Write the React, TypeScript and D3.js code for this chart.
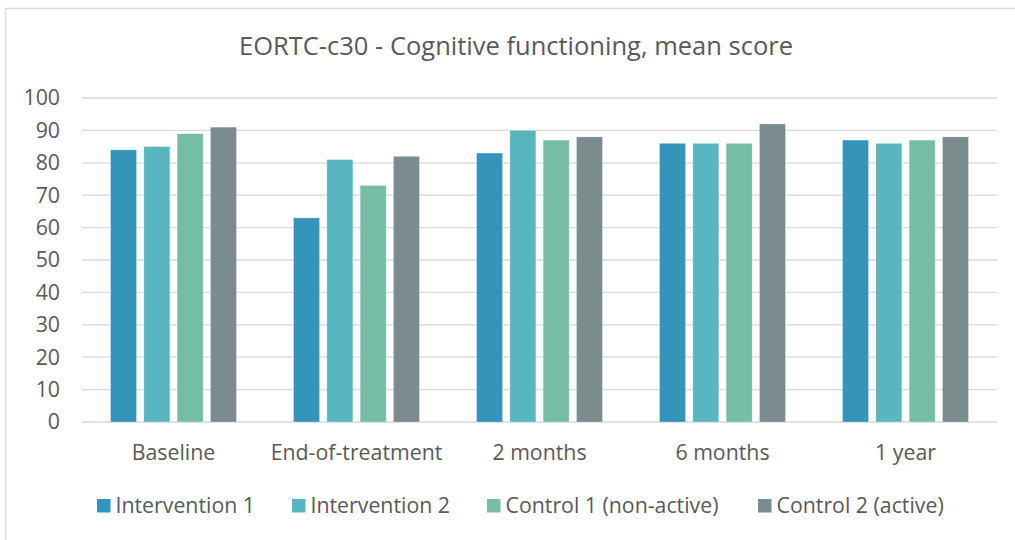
import React from "react";
import * as d3 from "d3";

const title = "EORTC-c30 - Cognitive functioning, mean score";
const categories = ["Baseline", "End-of-treatment", "2 months", "6 months", "1 year"];
const seriesNames = ["Intervention 1", "Intervention 2", "Control 1 (non-active)", "Control 2 (active)"];
const seriesColors = ["#3494BA", "#58B6C0", "#75BDA7", "#7A8C8E"];
const intervention1 = [84, 63, 83, 86, 87];
const intervention2 = [85, 81, 90, 86, 86];
const control1 = [89, 73, 87, 86, 87];
const control2 = [91, 82, 88, 92, 88];
const seriesValues = [intervention1, intervention2, control1, control2];
const yTicks = [0, 10, 20, 30, 40, 50, 60, 70, 80, 90, 100];
const legendX = [97, 292, 487, 758];

const W = 1015;
const H = 540;
const FONT = "'Open Sans', sans-serif";
const TXT = "#595959";
const FS = 21.3;

export default function App() {
  const plot = { left: 82, right: 997, top: 98, bottom: 422 };
  const y = d3.scaleLinear().domain([0, 100]).range([plot.bottom, plot.top]);
  const x0 = d3
    .scaleBand<string>()
    .domain(categories)
    .range([plot.left, plot.right])
    .paddingInner(0.312)
    .paddingOuter(0.156);
  const x1 = d3
    .scaleBand<number>()
    .domain(d3.range(seriesNames.length))
    .range([0, x0.bandwidth()])
    .paddingInner(0.22)
    .paddingOuter(0);

  return (
    <svg width={W} height={H} style={{ position: "absolute", left: 0, top: 0, display: "block" }}>
      <rect x={0} y={0} width={W} height={H} fill="#fff" />
      <rect x={5.5} y={8.5} width={W + 20} height={H + 20} fill="#fff" stroke="#D9D9D9" strokeWidth={1.5} />
      <text x={516} y={55} textAnchor="middle" fontFamily={FONT} fontSize={25.5} fill={TXT}>
        {title}
      </text>
      {yTicks.map((t) => (
        <g key={t}>
          <line x1={plot.left} x2={plot.right} y1={y(t)} y2={y(t)} stroke="#D9D9D9" strokeWidth={1.3} />
          <text
            x={60}
            y={y(t)}
            dy="0.35em"
            textAnchor="end"
            fontFamily={FONT}
            fontSize={FS}
            fill={TXT}
          >
            {t}
          </text>
        </g>
      ))}
      {categories.map((c, ci) => (
        <g key={c} transform={`translate(${x0(c)},0)`}>
          {seriesValues.map((vals, si) => (
            <rect
              key={si}
              x={x1(si)}
              y={y(vals[ci])}
              width={x1.bandwidth()}
              height={y(0) - y(vals[ci])}
              fill={seriesColors[si]}
              stroke="#ffffff"
              strokeOpacity={0.35}
              strokeWidth={0.75}
            />
          ))}
          <text
            x={x0.bandwidth() / 2}
            y={460}
            textAnchor="middle"
            fontFamily={FONT}
            fontSize={FS}
            fill={TXT}
          >
            {c}
          </text>
        </g>
      ))}
      {seriesNames.map((s, i) => (
        <g key={s} transform={`translate(${legendX[i]},0)`}>
          <rect x={0} y={499} width={13.5} height={13.5} fill={seriesColors[i]} />
          <text x={18.5} y={513} fontFamily={FONT} fontSize={FS} fill={TXT}>
            {s}
          </text>
        </g>
      ))}
    </svg>
  );
}
